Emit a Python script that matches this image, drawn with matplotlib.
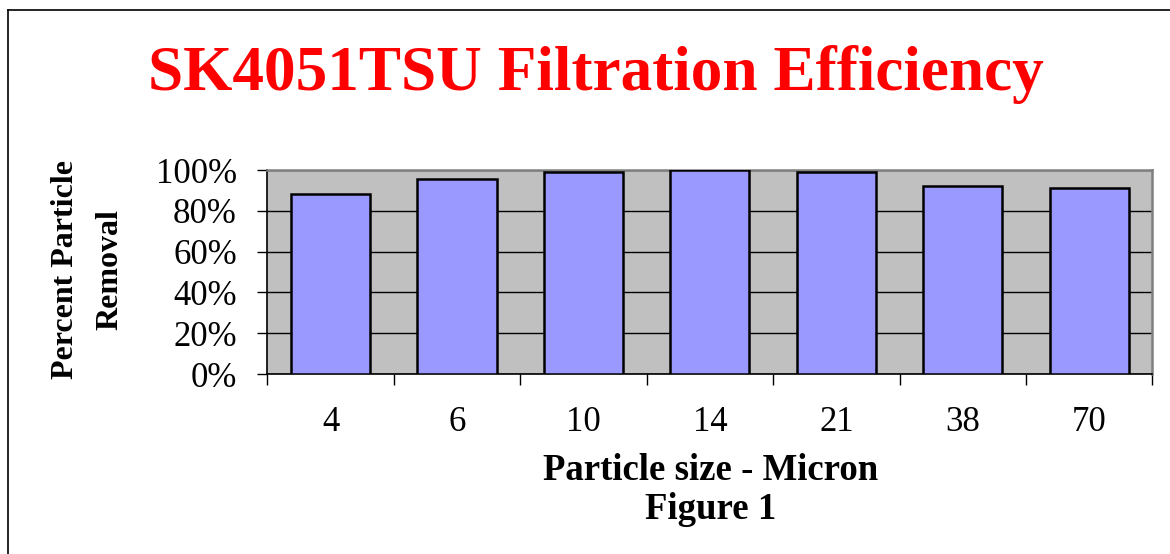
import matplotlib.pyplot as plt
from matplotlib.lines import Line2D
import numpy as np

# data
sizes = ['4', '6', '10', '14', '21', '38', '70']
removal = [88.1, 95.8, 98.9, 100.0, 98.9, 92.4, 91.4]
yticks = [0, 20, 40, 60, 80, 100]

plt.rcParams['font.family'] = ['Liberation Serif', 'DejaVu Serif']

fig = plt.figure(figsize=(11.7, 5.54), dpi=100)
ax = fig.add_axes([0.2285, 0.3249, 0.7565, 0.368])

x = np.arange(len(sizes))
ax.bar(x, removal, width=0.625, color='#9999FF', edgecolor='black', linewidth=1.8, zorder=3)

ax.set_facecolor('#C0C0C0')
ax.set_xlim(-0.5, len(sizes) - 0.5)
ax.set_ylim(0, 100)
ax.set_yticks(yticks)
ax.set_yticklabels([f'{v}%' for v in yticks], fontsize=25)
ax.yaxis.grid(True, color='black', linewidth=1, zorder=1)
ax.tick_params(axis='y', length=7, width=1, pad=15)

ax.set_xticks(x)
ax.set_xticklabels(sizes, fontsize=25)
ax.set_xticks(np.arange(-0.5, len(sizes)), minor=True)
ax.tick_params(axis='x', which='major', length=0, pad=23)
ax.tick_params(axis='x', which='minor', length=8, width=1)

for s in ['top', 'right']:
    ax.spines[s].set_color('#808080')
    ax.spines[s].set_linewidth(1.8)
for s in ['left', 'bottom']:
    ax.spines[s].set_color('black')
    ax.spines[s].set_linewidth(1.2)

fig.text(0.509, 0.866, 'SK4051TSU Filtration Efficiency', color='#FF0000',
         fontsize=45.5, fontweight='bold', ha='center', va='center')
fig.text(0.607, 0.150, 'Particle size - Micron', fontsize=26.5, fontweight='bold',
         ha='center', va='center')
fig.text(0.607, 0.080, 'Figure 1', fontsize=26.5, fontweight='bold',
         ha='center', va='center')
fig.text(0.075, 0.513, 'Percent Particle\nRemoval', fontsize=23, fontweight='bold',
         ha='center', va='center', rotation=90, linespacing=1.7)

# frame around the chart, open at right and bottom
fig.add_artist(Line2D([8 / 1170, 1], [1 - 10 / 554, 1 - 10 / 554], color='black', linewidth=1.2))
fig.add_artist(Line2D([8 / 1170, 8 / 1170], [0, 1 - 10 / 554], color='black', linewidth=1.2))

fig.savefig('out.png', dpi=100)
